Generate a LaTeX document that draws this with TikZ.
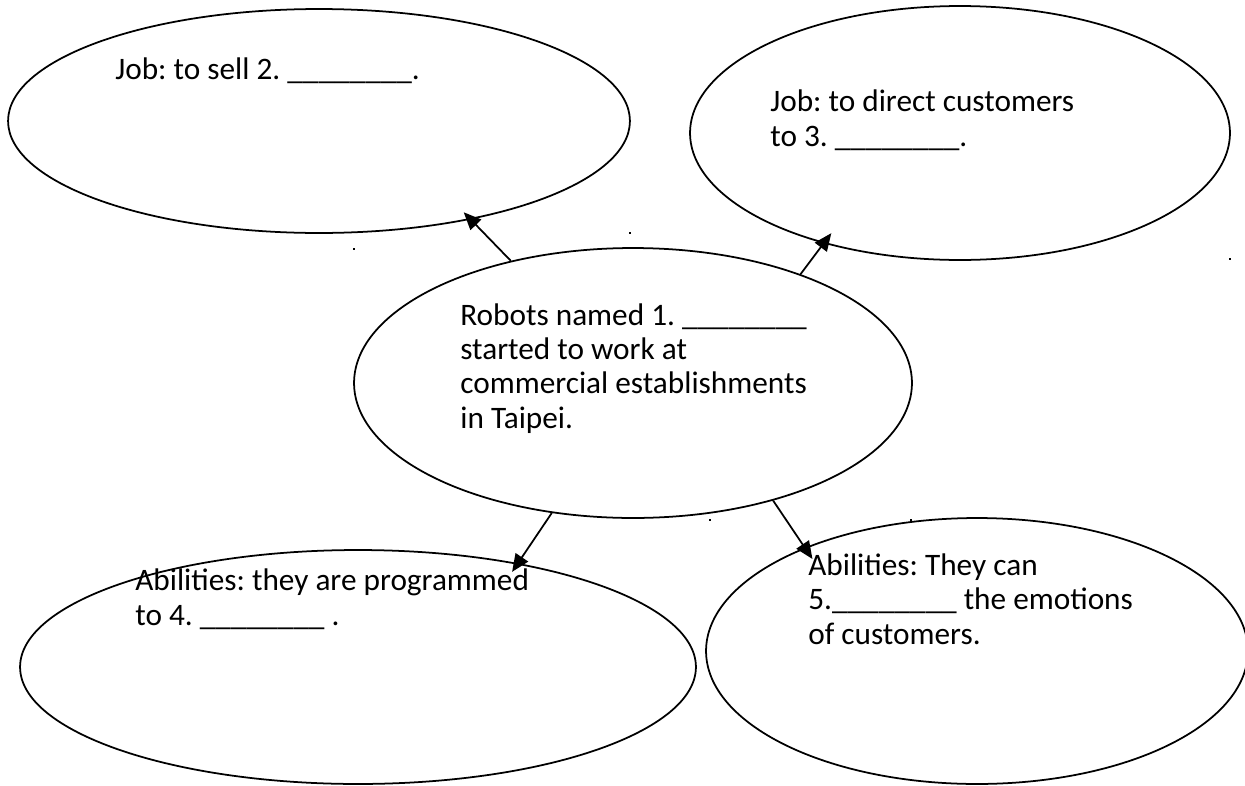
\documentclass[tikz,border=0pt]{standalone}
\usepackage{fontspec}
\setmainfont{Carlito}
\frenchspacing
\usetikzlibrary{shapes.geometric,arrows.meta,positioning}
\newcommand{\blank}{\_\_\_\_\_\_\_\_}
\tikzset{bubble/.style={draw, ellipse, line width=1pt, inner sep=0pt},
	words/.style={anchor=base west, align=left, inner sep=0pt, font=\fontsize{17.8}{19.45}\selectfont},
	pointer/.style={line width=1pt, -{Triangle[length=10pt,width=8.5pt]}}}
\begin{document}
\begin{tikzpicture}[x=0.02cm, y=-0.02cm]
				\useasboundingbox (0,0) rectangle (1245,785);

				\node[bubble, minimum width=12.44cm, minimum height=4.48cm] (sell) at (319,121) {};
				\node[bubble, minimum width=10.8cm, minimum height=5.08cm] (direct) at (960,133) {};
				\node[bubble, minimum width=11.16cm, minimum height=5.4cm] (robots) at (633,383) {};
				\node[bubble, minimum width=13.52cm, minimum height=4.68cm] (program) at (358,667) {};
				\node[bubble, minimum width=10.84cm, minimum height=5.32cm] (emotion) at (977,651) {};

				\node[words] (selltext) at (115,79) {Job: to sell 2. \blank.};
				\node[words] (directtext) at (770,146) {Job: to direct customers\\to 3. \blank.};
				\node[words] (robotstext) at (460,428) {Robots named 1. \blank\\started to work at\\commercial establishments\\in Taipei.};
				\node[words] (programtext) at (135,625) {Abilities: they are programmed\\to 4. \blank\ .};
				\node[words] (emotiontext) at (808,644) {Abilities: They can\\5.\blank\ the emotions\\of customers.};

				\draw[pointer, shorten >=-5.8pt] (robots.135.2) -- (sell.-33.4);
				\draw[pointer, shorten >=-7.3pt] (robots.33.4) -- (direct.219.5);
				\draw[pointer, shorten >=-6pt] (robots.238.2) -- (program.33.3);
				\draw[pointer, shorten >=-7.9pt] (robots.-40.8) -- (emotion.149.4);

				\foreach \dx/\dy in {1230/259, 710/520, 911/520, 354/249, 630/233}
					\fill (\dx-1,\dy-1) rectangle (\dx+1,\dy+1);

\end{tikzpicture}
\end{document}
